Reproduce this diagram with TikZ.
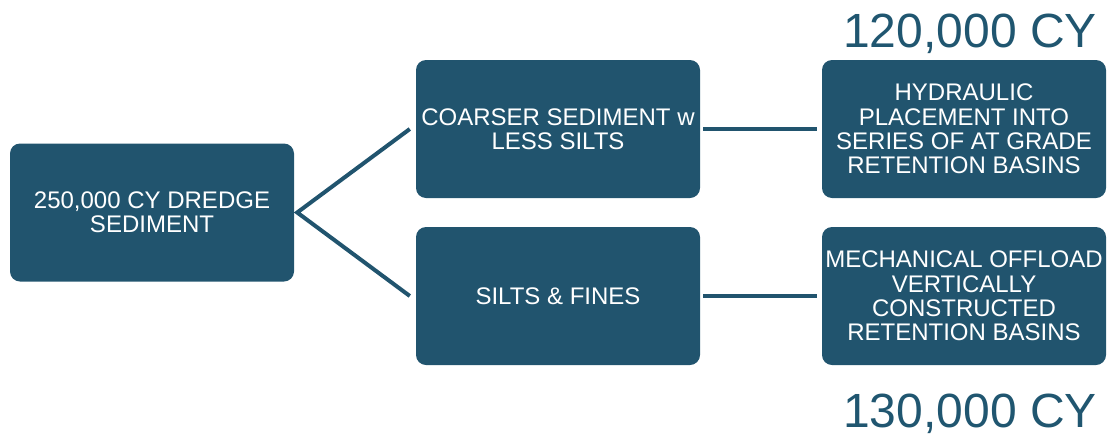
\documentclass[tikz,border=0pt]{standalone}
\usepackage{fontspec}
\setmainfont{Liberation Sans}
\definecolor{boxfill}{HTML}{21546E}
\definecolor{labcol}{HTML}{205670}
\begin{document}
\begin{tikzpicture}[x=1pt,y=-1pt,
  box/.style={fill=boxfill, rounded corners=10pt, minimum width=284pt, minimum height=138pt,
    inner sep=0pt, align=center, text=white, font=\fontsize{24}{24.3}\selectfont},
  conn/.style={draw=boxfill, line width=4pt},
  big/.style={text=labcol, font=\fontsize{48}{48}\selectfont, inner sep=0pt, anchor=base}]
\useasboundingbox (0,0) rectangle (1109,437);
\node[box] (A) at (152,212.5) {250,000 CY DREDGE\\SEDIMENT};
\node[box] (B) at (558,129) {COARSER SEDIMENT w\\LESS SILTS};
\node[box] (C) at (558,296) {SILTS \& FINES};
\node[box] (D) at (964,129) {HYDRAULIC\\PLACEMENT INTO\\SERIES OF AT GRADE\\RETENTION BASINS};
\node[box] (E) at (964,296) {MECHANICAL OFFLOAD\\VERTICALLY\\CONSTRUCTED\\RETENTION BASINS};
\node[big] (L1) at (970,47) {120,000 CY};
\node[big] (L2) at (970,427) {130,000 CY};
\draw[conn] ([xshift=-6pt]B.west) -- ([xshift=3pt]A.east) -- ([xshift=-6pt]C.west);
\draw[conn] ([xshift=3pt]B.east) -- ([xshift=-5pt]D.west);
\draw[conn] ([xshift=3pt]C.east) -- ([xshift=-5pt]E.west);
\end{tikzpicture}
\end{document}
